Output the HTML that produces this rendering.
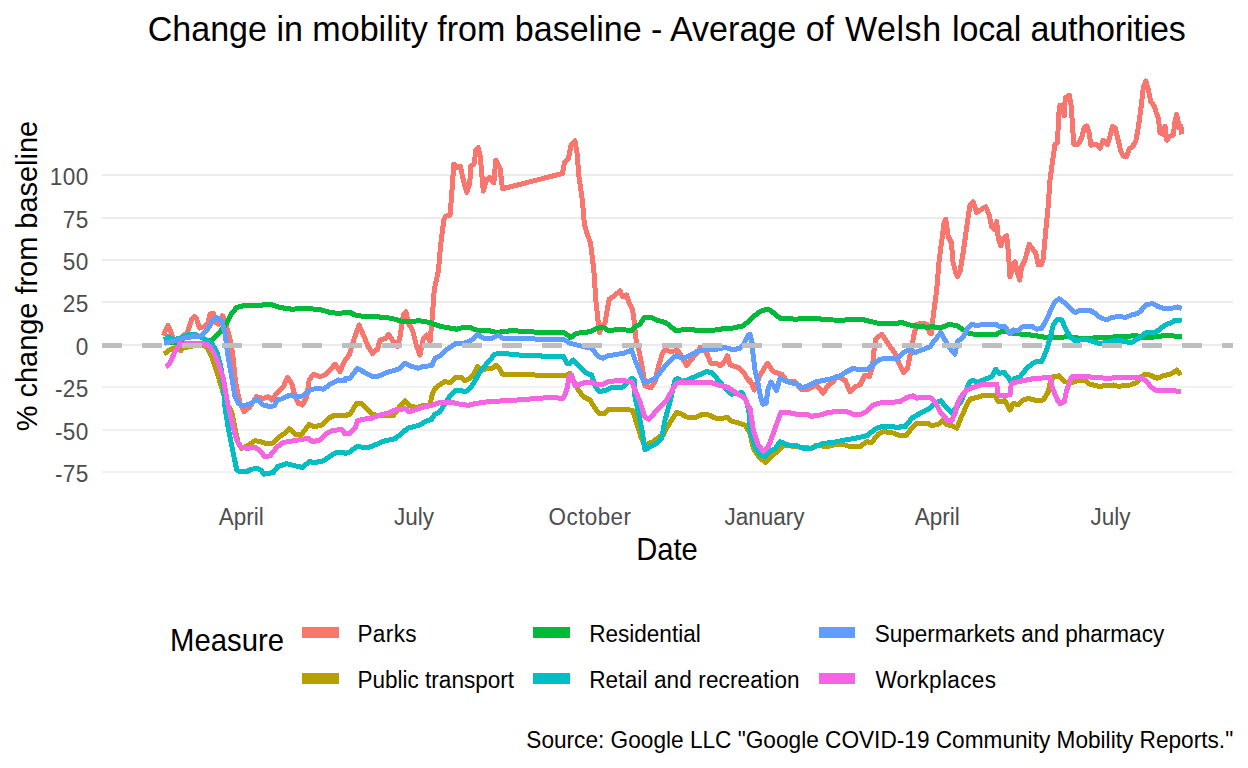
<!DOCTYPE html>
<html><head><meta charset="utf-8"><title>Change in mobility from baseline</title>
<style>
html,body{margin:0;padding:0;background:#fff;}
body{width:1248px;height:768px;position:relative;overflow:hidden;font-family:"Liberation Sans",sans-serif;color:#000;}
svg{position:absolute;left:0;top:0;}
.t{position:absolute;white-space:nowrap;}
.sw{position:absolute;width:37px;height:11px;}
</style></head><body>
<svg width="1248" height="768" viewBox="0 0 1248 768">
<rect x="102" y="174" width="1131" height="2" fill="#ebebeb"/>
<rect x="102" y="217" width="1131" height="2" fill="#ebebeb"/>
<rect x="102" y="259" width="1131" height="2" fill="#ebebeb"/>
<rect x="102" y="301" width="1131" height="2" fill="#ebebeb"/>
<rect x="102" y="344" width="1131" height="2" fill="#ebebeb"/>
<rect x="102" y="386" width="1131" height="2" fill="#f1f1f1"/>
<rect x="102" y="429" width="1131" height="2" fill="#f1f1f1"/>
<rect x="102" y="471" width="1131" height="2" fill="#f1f1f1"/>
<path d="M163.3,335.8 L165.8,330 L168,325.3 L170.3,330.5 L172.8,338.3 L176.7,345 L180.8,350.8 L182.5,341.7 L183.3,335.3 L186.7,333.7 L189.2,327 L191.7,319 L194.5,316.3 L196.7,319 L199.5,328 L204.2,326.7 L207.5,324.2 L210,314.2 L213.3,313.3 L215.8,322.5 L219.2,324.2 L222.5,315.8 L225,320.5 L227.5,330 L230.8,341.7 L232.8,355.3 L235.7,383.3 L240,403.3 L244.2,411.7 L250,406.7 L256.7,396.7 L263.3,398.3 L268.3,396.7 L271.7,400 L276.7,393.3 L283.3,386.7 L287.5,377.5 L291.7,383.3 L295,396.7 L298.3,403.3 L302.5,405 L306.7,396.7 L309.2,380 L313.3,374.2 L320,376.7 L325,375 L330,370 L335,364.2 L340,371.7 L344.2,361.7 L349.2,355 L351.7,346.7 L354.2,338.3 L359.2,325 L363.3,335 L368.3,346.7 L372.5,353.3 L377.5,349.2 L380,340 L385.8,338.3 L388.3,334.2 L391.7,339.2 L397.5,346.7 L400,336.7 L403.3,315 L405.8,311.7 L408.3,323.3 L412.5,330 L416.7,346.7 L420,355 L423.3,338.3 L426.7,335 L430,341.7 L432.5,315 L434.2,290 L438.5,270 L440.6,245.4 L443.8,220.4 L445.8,216.2 L450,215.2 L452.1,189.2 L453.8,164.2 L457.3,167.3 L460.4,166.2 L463.5,180.8 L466.7,192.3 L469.8,182.9 L470.8,166.2 L474,164.2 L476,149.6 L478.1,147.5 L480.2,155.8 L483.3,191.2 L486.5,179.8 L489.6,177.7 L493.8,182.9 L495.8,160 L500,168.3 L502.5,188.8 L562.5,173.5 L564.6,162.1 L568.3,159 L571.2,144.4 L575,140.8 L577.1,153.8 L579.2,178.8 L582.3,199.6 L584.4,224.6 L587.5,235 L590.6,243.3 L593.8,270 L595.8,300 L598.3,323.3 L599.5,333 L602.5,325 L605,323.3 L607.5,308.3 L609.2,299.2 L613.3,296.7 L620,290.8 L622.5,296.7 L626.7,295 L629.2,303.3 L632.5,309.2 L634.2,321.7 L635.8,338.3 L639.2,351.7 L643.3,373.3 L645,385.8 L650.8,388 L655,381.7 L658.3,366.7 L662.5,353.3 L665,350 L671.7,351.7 L677.5,350 L681.7,356.7 L686.7,365.8 L690.8,360 L696.7,353.3 L700,347.5 L705,350 L707.5,355 L710.8,363.3 L716.7,363.3 L720,365.8 L723.3,363.3 L727.5,355.8 L730,365 L738.3,367.5 L744.2,373.3 L749.2,381.7 L750,380 L754.2,390 L760,375 L767.5,363.3 L773.3,371.7 L781.7,374.2 L787.5,381.7 L795,381.7 L801.7,390 L808.3,389.2 L816.7,385 L823.3,393.3 L828.3,385 L833.3,381.7 L836.7,376.7 L845,380 L850,391.7 L855,386.7 L860,385 L865,375 L869.2,376.7 L872.5,366.7 L874.2,348.3 L875.8,339.2 L881.7,334.2 L886.7,341.7 L895,353.3 L898.3,361.7 L903.3,372.5 L907.5,368.3 L910.8,351.7 L914.2,333.3 L916.7,324.2 L923.3,323.3 L926.7,324.2 L930,333.3 L931.7,333.3 L933.3,315 L936.7,290 L939.2,260 L942.5,235 L944.2,221.7 L945.8,219.2 L948.3,236.7 L951.7,243.3 L952.5,260 L955.8,273.3 L957.5,276.7 L960,271.7 L963.3,251.7 L967.5,221.7 L970,205 L973.3,201.7 L976.7,212.5 L981.7,209.2 L985.8,206.7 L989.2,215 L991.7,226.7 L994.2,229.2 L996.7,221.7 L998.3,238.3 L1000.8,245.8 L1004.2,237.5 L1006.7,235.8 L1008.3,251.7 L1010,276.7 L1012.5,270 L1015,261.7 L1017.5,273.3 L1019.7,280 L1021.7,266.7 L1025,260 L1029.2,244.2 L1033.3,250 L1035.8,253.3 L1038.3,265 L1041.7,264.2 L1043.3,258.3 L1045.8,230 L1048.3,205 L1050,180 L1053.3,156 L1055,144.3 L1057.5,142.7 L1058.7,114.3 L1060,105.2 L1062.5,106 L1064.2,116 L1065.3,97.7 L1069.2,95.2 L1070.8,102.7 L1072.5,124.3 L1073.7,144.3 L1078.3,144.3 L1081.7,137.7 L1084.2,127.7 L1086.7,126 L1089.2,132.7 L1090.8,145.2 L1096.7,144.3 L1100,148.5 L1103.3,140.2 L1107.5,144.3 L1110,136 L1112.5,126.8 L1115,127.7 L1117.5,137.7 L1120.8,151 L1123.3,156 L1126.7,156.8 L1129.2,148.5 L1132.5,146.8 L1135.8,141 L1138.3,127.7 L1140.8,109.3 L1143.3,87.7 L1145.8,81 L1148.3,89.3 L1150.8,101.8 L1154.2,106 L1156.7,114.3 L1158.3,117.7 L1160,132.7 L1163.3,134.3 L1165,126 L1166.7,140.2 L1170,136 L1173.3,135.2 L1175,121 L1176.7,114.3 L1179.2,127.7 L1180.8,126 L1182,134.3" fill="none" stroke="#F8766D" stroke-width="5" stroke-linejoin="round" stroke-linecap="butt" shape-rendering="crispEdges"/>
<path d="M164.2,354.2 L166.7,352 L171.7,348.7 L178.3,348.3 L184.2,348 L189.2,346.3 L203.3,345.2 L207.5,348.3 L211.7,356.7 L218.3,376.7 L223.3,393.3 L225.8,401.7 L231.7,411.7 L235,428.3 L238.3,443.3 L241.7,448.3 L248.3,445 L255,440.8 L260,441.3 L265,443.3 L273.3,443 L278.3,437.5 L283.3,434.2 L289.2,428.7 L295,434.2 L301.7,434.2 L309.2,424.2 L314.2,426.7 L321.7,425 L330,417.5 L335,415 L346.7,415.3 L348.3,414.2 L350,414.2 L356.7,403.3 L361.7,403.3 L366.7,408.3 L371.7,414.2 L380,415.8 L393.3,415.8 L400,405.8 L405,400.8 L409.2,405.8 L416.7,407.5 L423.3,405.3 L430,405 L432.5,393.3 L435,388.3 L445,381.3 L450,383 L455,377.5 L460.8,377 L465,380.8 L470,378.3 L474.2,373.3 L477.5,366.7 L481.7,369.2 L491.7,368.7 L495.8,365.3 L499.2,368.3 L502.5,374.2 L530,374.2 L536.7,375.3 L550,375.3 L565,375.8 L570,373.3 L575,383.3 L578.3,390 L583.3,396.7 L590,400 L595,408.3 L599.2,413.7 L605,413.3 L609.2,409.2 L616.7,410 L623.3,409.2 L632.5,410.3 L636.7,423.3 L640.8,436.7 L645,446.7 L648.3,443.3 L653.3,441.7 L659.2,436.7 L663.3,435 L666.7,428.3 L671.7,420 L676.7,412.5 L681.7,414.2 L686.7,417 L696.7,417 L701.7,414.7 L708.3,414.7 L715,418 L721.7,418.3 L727.5,417.5 L730.8,420.8 L736.7,422.5 L745,425 L749.2,431.7 L750,433.3 L753.3,448.3 L760,458.3 L765.8,462.5 L770.8,456.7 L778.3,450.8 L783.3,445 L796.7,446.7 L811.7,448.3 L816.7,445 L826.7,446.7 L836.7,444.2 L845,445 L850,446.7 L860,446.7 L866.7,441.7 L871.7,442.5 L878.3,434.2 L883.3,431.7 L891.7,432.5 L898.3,435 L900,435 L906.7,435 L911.7,428.3 L916.7,423.3 L928.3,423.3 L931.7,425.8 L938.3,424.2 L942.5,420.8 L945.8,424.2 L951.7,425.8 L956.7,428.3 L960.8,418.3 L966.7,405 L970,399.2 L976.7,397.5 L985,395 L995,395 L998.3,401.7 L1005,400.8 L1010,410 L1013.3,403.3 L1018.3,404.7 L1023.3,400 L1028.3,398.3 L1033.3,399.7 L1038.3,400.8 L1043.3,400 L1048.3,391.7 L1050,383.3 L1053.3,376.7 L1059.2,375.8 L1062.5,379.2 L1065,381.7 L1070,383.3 L1076.7,380.8 L1085,380.8 L1090,384.2 L1096.7,385.8 L1100,386.7 L1105,385.3 L1108.3,385.8 L1113.3,385 L1118.3,386.3 L1130,385 L1136.7,382.5 L1141.7,376.7 L1145,374.2 L1150,375 L1156.7,378.3 L1163.3,375.8 L1171.7,373.7 L1176.7,370 L1179.2,373.3 L1181.7,372.5" fill="none" stroke="#B79F00" stroke-width="5" stroke-linejoin="round" stroke-linecap="butt" shape-rendering="crispEdges"/>
<path d="M164.2,342.5 L175,343 L191.7,343.3 L205,343 L211.7,340 L220,331.7 L226.7,323.3 L231.7,313.3 L236.7,307.5 L243.3,305.8 L260,305.8 L265,304.2 L271.7,304.7 L280,307.5 L291.7,309.2 L306.7,308.3 L321.7,310 L330,312.5 L338.3,313.3 L349.2,312.5 L350,312.5 L356.7,315.8 L376.7,316.7 L391.7,318.3 L403.3,321.7 L420,320.8 L430,322.5 L438.3,325.8 L446.7,327.5 L456.7,329.2 L465,327 L470,327.5 L478.3,330.8 L490,330.8 L496.7,332.5 L510,330.8 L530,331.3 L536.7,332.5 L550,332.5 L563.3,332 L570.8,337.5 L576.7,333.3 L590,331.7 L596.7,328.3 L603.3,327.5 L608.3,330.3 L620,329.7 L631.7,330.3 L635,326.7 L640,324.2 L644.2,317.5 L650,317 L656.7,320 L665,322.5 L670,325.8 L675.8,330.8 L683.3,329.7 L693.3,329.7 L698.3,330.8 L710,330.8 L723.3,328.7 L733.3,328 L743.3,325.8 L750,320 L758.3,312.5 L765,309.7 L770,310 L780,318.3 L796.7,319.2 L803.3,318.3 L816.7,318.7 L833.3,320 L843.3,320.3 L850,319.2 L863.3,319.7 L871.7,321.7 L880,323.7 L896.7,323.3 L901.7,322.5 L910,325 L920,326.7 L929.2,327.3 L930,326.7 L941.7,327.5 L948.3,324.7 L956.7,325.3 L963.3,330 L970,333.7 L980,334.7 L996.7,334.2 L1001.7,331.3 L1008.3,331.7 L1015,333.7 L1023.3,334.2 L1033.3,335.3 L1046.7,337.5 L1056.7,337.5 L1068.3,336.7 L1080,338.3 L1093.3,338 L1106.7,337.5 L1121.7,336.3 L1136.7,335.8 L1143.3,338 L1156.7,336.7 L1166.7,335.3 L1181.7,336.7" fill="none" stroke="#00BA38" stroke-width="5" stroke-linejoin="round" stroke-linecap="butt" shape-rendering="crispEdges"/>
<path d="M164.2,340 L168.3,336.7 L173.3,340 L181.7,337.5 L190,334.2 L195,334.2 L200,336.7 L206.7,340 L211.7,343.3 L216.7,351.7 L220.8,366.7 L223.3,386.7 L225,406.7 L228.3,428.3 L233.3,453.3 L236.7,470 L240,472 L246.7,471.7 L251.7,469.2 L256.7,468.3 L260.8,470 L264.2,474.2 L273.3,472.5 L277.5,466.7 L286.7,463.7 L295,465.8 L302.5,467.5 L309.2,461.7 L315,462.5 L323.3,460.8 L335,453 L341.7,452.5 L345.8,453.3 L350,451.7 L356.7,446.7 L368.3,447.5 L375,445 L383.3,441.3 L395,438.7 L400,435 L407.5,428.3 L420,425 L425,421.7 L431.7,419.2 L435,414.2 L440,411.7 L445,403.3 L450,395.8 L455,390.8 L460.8,390 L465,392 L470,388.3 L475,380.8 L480,371.7 L488.3,361.7 L495,354.2 L500,353 L518.3,355 L548.3,356.3 L550,356.3 L563.3,356.3 L566.7,363.3 L570,363.3 L573.3,360 L578.3,365 L586.7,373.3 L591.7,375 L595,385.8 L599.2,391.3 L605,390.8 L610,388 L623.3,387 L628.3,381.7 L631.7,378.3 L634.2,380 L635,396.7 L640,420 L642.5,433.3 L645,450 L650,446.7 L656.7,443.3 L661.7,438.3 L665,420 L670,401.7 L675,380 L677.5,378.3 L681.7,381.3 L688.3,379.7 L696.7,375.8 L706.7,371.7 L711.7,372.5 L718.3,380 L725,388.3 L731.7,394.2 L741.7,392.5 L746.7,401.7 L749.2,413.3 L750,430 L755,446.7 L760,455 L765,456.7 L770,450.8 L775,449.2 L780,441.7 L788.3,445 L796.7,445.8 L803.3,448.3 L811.7,448 L823.3,443.3 L833.3,442.5 L843.3,440.3 L856.7,438 L866.7,435.8 L875,429.2 L881.7,426.3 L891.7,426.7 L899.2,427.5 L900,426.7 L905,426.7 L911.7,418.3 L920,413.3 L928.3,409.2 L935,403.3 L940.8,400.8 L945,405.8 L951.7,412.5 L960,403.3 L966.3,390 L969.7,382 L972.5,380.3 L977.5,382.2 L983.3,380 L991.7,376.7 L995.8,369.2 L999.2,373.3 L1004.2,372.5 L1008.3,377.5 L1010.8,382.5 L1015,378.3 L1020,376.7 L1026.7,368.3 L1031.7,364.2 L1036.7,361.3 L1041.7,361.7 L1046.7,350 L1050,338.3 L1053.3,325 L1057.5,319.2 L1061.7,320 L1065,327.5 L1070,336.7 L1075,340.8 L1080,340 L1086.7,339.2 L1093.3,341.7 L1100,343.7 L1110,341.7 L1118.3,340 L1125,341.7 L1131.7,342.5 L1136.7,339.2 L1140,337.5 L1145,333 L1155,332.5 L1160,329.2 L1165,325 L1171.7,322.5 L1175.8,320 L1181.7,320.8" fill="none" stroke="#00BFC4" stroke-width="5" stroke-linejoin="round" stroke-linecap="butt" shape-rendering="crispEdges"/>
<path d="M164.2,343.3 L175,340.8 L186.7,337.5 L201.7,335.8 L208.3,328.3 L213.3,320 L216.7,317.5 L221.7,320.8 L225,333.3 L227.5,353.3 L231.7,376.7 L235,396.7 L238.3,403.3 L243.3,405.8 L251.7,403.3 L256.7,399.2 L263.3,405 L270,406.7 L274.2,405.8 L277.5,400 L283.3,398.3 L290,395 L296.7,396.7 L303.3,395.8 L310,390 L316.7,388.3 L323.3,389.2 L331.7,383.3 L338.3,380 L345,380.8 L345.8,378.3 L350,378.3 L357.5,368.3 L363.3,371.7 L371.7,376.3 L378.3,376.3 L386.7,372.5 L398.3,369.2 L405,363.3 L410,365.8 L418.3,368.3 L423.3,366.3 L431.7,365.8 L435,358.3 L440,355.8 L448.3,348.3 L456.7,343 L465,343 L471.7,340 L477.5,334.7 L485,338.7 L491.7,338.3 L498.3,335.3 L503.3,338.3 L530,338.3 L536.7,339.2 L550,339.2 L563.3,339.2 L570,343.3 L580,345.8 L591.7,348.3 L598.3,356.7 L603.3,358.3 L608.3,355.8 L623.3,353.3 L631.7,350 L635,360 L639.2,370 L644.2,382.5 L650,380.8 L655.8,378 L663.3,368.3 L670,360.8 L675.8,355.8 L683.3,358.3 L690,355.3 L696.7,351.7 L705,349.7 L716.7,349.2 L725,347.5 L733.3,349.7 L740,348.3 L744.2,343.3 L748,335.3 L750,334.3 L752.2,343.3 L752.5,350 L755,370 L757.5,380.8 L760.8,398.3 L763,404.3 L766.3,403.3 L767.7,390 L770.8,382 L776.7,390.3 L780,378 L786.7,381.7 L796.7,384.2 L802.5,387.5 L808.3,385.8 L816.7,381.7 L830,379.2 L840,375.8 L846.7,371.7 L853.3,368.3 L860,370 L868.3,369.2 L873.3,364.2 L880,359.2 L888.3,358.3 L896.7,359.2 L903.3,352.5 L910,349.2 L915,352.5 L921.7,350 L929.2,347 L930,346.7 L935,340 L940.8,332.5 L945,340 L950,348.3 L955,354.2 L957.5,341.7 L963.3,336.7 L967.5,328.3 L971.7,324.2 L976.7,325.8 L983.3,324.2 L996.7,324.7 L1000,327 L1005,326.7 L1010,333.7 L1013.3,330 L1018.3,330.8 L1023.3,326.3 L1031.7,326.3 L1036.7,329.2 L1041.7,328.3 L1046.7,319.2 L1051.7,308.3 L1055,301.7 L1059.2,298.7 L1065,303 L1070,308.3 L1075,312.5 L1080,310.3 L1090,310.3 L1095,313.3 L1100,317.5 L1106.7,320 L1111.7,317.5 L1120,316.3 L1125,317.5 L1131.7,315 L1136.7,313.7 L1140,311.7 L1146.7,304.2 L1153.3,303.8 L1158.3,306.7 L1165,308.7 L1173.3,308 L1177.5,307 L1181.7,308.3" fill="none" stroke="#619CFF" stroke-width="5" stroke-linejoin="round" stroke-linecap="butt" shape-rendering="crispEdges"/>
<path d="M165.8,366.7 L169.2,364.2 L175,351.7 L180,344.2 L201.7,343.3 L208.3,345 L213.3,351.7 L218.3,363.3 L223.3,378.3 L226.7,398.3 L228.3,406.7 L233.3,428.3 L236.7,440 L240.8,447 L246.7,448.3 L255,447.5 L260,450.8 L265,457 L270,455.8 L276.7,447.5 L283.3,442.5 L293.3,440.8 L308.3,438.3 L312.5,441.7 L320,440 L326.7,433.3 L333.3,430.3 L341.7,429.7 L345,433.7 L349.2,433.7 L350,433.3 L355,428.3 L357.5,420.8 L363.3,419.2 L371.7,418.3 L380,415 L388.3,413 L395,410 L405,408.7 L409.2,411.7 L421.7,407.5 L431.7,405.3 L440,402.5 L450,402 L460,404.2 L468.3,405.3 L476.7,403.3 L488.3,401.7 L516.7,400 L550,397.5 L563.3,398.3 L566.7,390 L569.2,376.7 L571.7,375 L575,385.8 L583.3,383 L591.7,382 L598.3,385 L603.3,384.2 L608.3,381.7 L620,380.3 L631.7,381.7 L635,390 L640,401.7 L645,417.5 L649.2,419.2 L658.3,408.3 L666.7,400 L673.3,388.3 L676.7,383 L700,382.5 L710,382 L718.3,385 L728.3,387.5 L738.3,394.2 L745,398.3 L749.2,408.3 L750,408.3 L753.3,430 L758.3,445 L763.3,451.7 L768.3,446.7 L773.3,433.3 L777.5,421.7 L780.8,412.5 L788.3,412.5 L800,415 L806.7,414.2 L811.7,416.3 L820,415 L826.7,413 L836.7,411.3 L846.7,411.7 L853.3,414.2 L859.2,415 L866.7,411.3 L873.3,405 L880,403 L891.7,402.5 L899.2,401.3 L900,401.7 L906.7,397.5 L913.3,395.8 L916.7,398.3 L923.3,397 L930,397.5 L935,401.7 L940,411.7 L945,416.7 L947.5,420.8 L951.7,420.8 L955,413.3 L957.5,403.3 L961.7,395.8 L966.7,390 L973.3,387.5 L981.7,384.7 L990,384.2 L996.7,384.2 L998.3,394.7 L1003.3,395.8 L1010,394.7 L1011.3,383.3 L1020,381.3 L1033.3,378.7 L1041.7,378 L1050,377.5 L1052.5,388.3 L1057.5,400 L1060,403.7 L1064.2,401.7 L1066.7,390 L1071.7,376.7 L1086.7,376.7 L1106.7,378.3 L1120,377.5 L1133.3,377.5 L1142.5,378.3 L1146.7,381.7 L1150.8,386.7 L1155,390 L1163.3,390.3 L1173.3,390.8 L1180.8,391.3" fill="none" stroke="#F564E3" stroke-width="5" stroke-linejoin="round" stroke-linecap="butt" shape-rendering="crispEdges"/>
<line x1="102" x2="1233" y1="345.5" y2="345.5" stroke="#bebebe" stroke-width="5" stroke-dasharray="20 20" shape-rendering="crispEdges"/>
</svg>
<div class="t" style="left:147.70px;text-align:left;top:8.60px;font-size:34.06px;line-height:41px;color:#000;transform-origin:0 32.30px;transform:scaleY(1.045);">Change in mobility from baseline - Average of<span style="letter-spacing:1.4px"> </span><span style="letter-spacing:0.55px">Welsh</span><span style="letter-spacing:0.9px"> </span><span style="letter-spacing:-0.17px">local authorities</span></div>
<div class="t" style="left:8.60px;width:80px;text-align:right;top:163.67px;font-size:22.6px;line-height:27px;color:#4d4d4d;letter-spacing:0.35px;transform-origin:0 21.33px;transform:scaleY(1.045);">100</div>
<div class="t" style="left:8.60px;width:80px;text-align:right;top:206.67px;font-size:22.6px;line-height:27px;color:#4d4d4d;letter-spacing:0.35px;transform-origin:0 21.33px;transform:scaleY(1.045);">75</div>
<div class="t" style="left:8.60px;width:80px;text-align:right;top:248.67px;font-size:22.6px;line-height:27px;color:#4d4d4d;letter-spacing:0.35px;transform-origin:0 21.33px;transform:scaleY(1.045);">50</div>
<div class="t" style="left:8.60px;width:80px;text-align:right;top:290.67px;font-size:22.6px;line-height:27px;color:#4d4d4d;letter-spacing:0.35px;transform-origin:0 21.33px;transform:scaleY(1.045);">25</div>
<div class="t" style="left:8.60px;width:80px;text-align:right;top:333.67px;font-size:22.6px;line-height:27px;color:#4d4d4d;letter-spacing:0.35px;transform-origin:0 21.33px;transform:scaleY(1.045);">0</div>
<div class="t" style="left:8.60px;width:80px;text-align:right;top:375.67px;font-size:22.6px;line-height:27px;color:#4d4d4d;letter-spacing:0.35px;transform-origin:0 21.33px;transform:scaleY(1.045);">-25</div>
<div class="t" style="left:8.60px;width:80px;text-align:right;top:418.67px;font-size:22.6px;line-height:27px;color:#4d4d4d;letter-spacing:0.35px;transform-origin:0 21.33px;transform:scaleY(1.045);">-50</div>
<div class="t" style="left:8.60px;width:80px;text-align:right;top:460.67px;font-size:22.6px;line-height:27px;color:#4d4d4d;letter-spacing:0.35px;transform-origin:0 21.33px;transform:scaleY(1.045);">-75</div>
<div class="t" style="left:181.30px;width:120px;text-align:center;top:503.60px;font-size:22.5px;line-height:27px;color:#4d4d4d;transform-origin:0 21.30px;transform:scaleY(1.045);">April</div>
<div class="t" style="left:354.00px;width:120px;text-align:center;top:503.60px;font-size:22.5px;line-height:27px;color:#4d4d4d;transform-origin:0 21.30px;transform:scaleY(1.045);">July</div>
<div class="t" style="left:530.00px;width:120px;text-align:center;top:503.60px;font-size:22.5px;line-height:27px;color:#4d4d4d;letter-spacing:0.4px;transform-origin:0 21.30px;transform:scaleY(1.045);">October</div>
<div class="t" style="left:704.50px;width:120px;text-align:center;top:503.60px;font-size:22.5px;line-height:27px;color:#4d4d4d;transform-origin:0 21.30px;transform:scaleY(1.045);">January</div>
<div class="t" style="left:877.20px;width:120px;text-align:center;top:503.60px;font-size:22.5px;line-height:27px;color:#4d4d4d;transform-origin:0 21.30px;transform:scaleY(1.045);">April</div>
<div class="t" style="left:1050.40px;width:120px;text-align:center;top:503.60px;font-size:22.5px;line-height:27px;color:#4d4d4d;transform-origin:0 21.30px;transform:scaleY(1.045);">July</div>
<div class="t" style="left:567.00px;width:200px;text-align:center;top:533.18px;font-size:29.2px;line-height:35px;color:#000;transform-origin:0 27.62px;transform:scaleY(1.045);">Date</div>
<div class="t" style="left:170.00px;text-align:left;top:623.35px;font-size:29.3px;line-height:35px;color:#000;transform-origin:0 27.65px;transform:scaleY(1.045);">Measure</div>
<div class="sw" style="left:302px;top:627.0px;width:37px;background:#F8766D"></div>
<div class="t" style="left:357.40px;text-align:left;top:621.09px;font-size:22.55px;line-height:27px;color:#000;letter-spacing:0.4px;transform-origin:0 21.31px;transform:scaleY(1.045);">Parks</div>
<div class="sw" style="left:302px;top:673.0px;width:37px;background:#B79F00"></div>
<div class="t" style="left:357.40px;text-align:left;top:667.09px;font-size:22.55px;line-height:27px;color:#000;transform-origin:0 21.31px;transform:scaleY(1.045);">Public transport</div>
<div class="sw" style="left:533px;top:627.0px;width:36.6px;background:#00BA38"></div>
<div class="t" style="left:589.20px;text-align:left;top:621.09px;font-size:22.55px;line-height:27px;color:#000;transform-origin:0 21.31px;transform:scaleY(1.045);">Residential</div>
<div class="sw" style="left:533px;top:673.0px;width:36.6px;background:#00BFC4"></div>
<div class="t" style="left:589.20px;text-align:left;top:667.09px;font-size:22.55px;line-height:27px;color:#000;letter-spacing:0.12px;transform-origin:0 21.31px;transform:scaleY(1.045);">Retail and recreation</div>
<div class="sw" style="left:818.7px;top:627.0px;width:36.3px;background:#619CFF"></div>
<div class="t" style="left:874.70px;text-align:left;top:621.09px;font-size:22.55px;line-height:27px;color:#000;transform-origin:0 21.31px;transform:scaleY(1.045);">Supermarkets and pharmacy</div>
<div class="sw" style="left:818.7px;top:673.0px;width:36.3px;background:#F564E3"></div>
<div class="t" style="left:875.40px;text-align:left;top:667.09px;font-size:22.55px;line-height:27px;color:#000;letter-spacing:0.36px;transform-origin:0 21.31px;transform:scaleY(1.045);">Workplaces</div>
<div class="t" style="left:433.20px;width:800px;text-align:right;top:727.25px;font-size:22.65px;line-height:27px;color:#000;transform-origin:0 21.35px;transform:scaleY(1.045);">Source: Google LLC "Google COVID-19 Community Mobility Reports."</div>
<div class="t" style="left:0;top:0;font-size:28.95px;line-height:35px;transform-origin:0 0;transform:translate(8.53px,431.3px) rotate(-90deg) scaleY(1.045);">% change from baseline</div>
</body></html>
